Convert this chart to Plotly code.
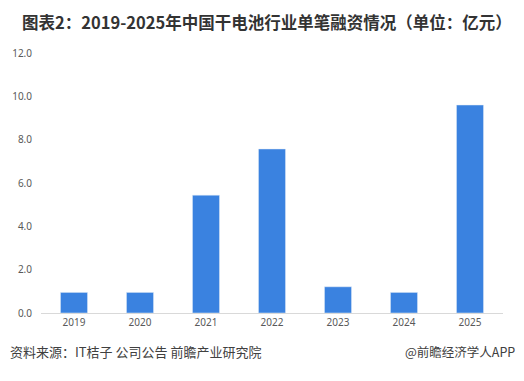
import plotly.graph_objects as go

years = ["2019", "2020", "2021", "2022", "2023", "2024", "2025"]
values = [0.95, 0.95, 5.44, 7.57, 1.21, 0.95, 9.6]
y_ticks = [0, 2, 4, 6, 8, 10, 12]
y_tick_labels = ["0.0", "2.0", "4.0", "6.0", "8.0", "10.0", "12.0"]

title_text = "图表2：2019-2025年中国干电池行业单笔融资情况（单位：亿元）"
source_text = "资料来源：IT桔子 公司公告 前瞻产业研究院"
credit_text = "@前瞻经济学人APP"

# page body has an 8px default margin; figure size compensates
OFF = 8
W, H = 524 - OFF, 381 - OFF
L, R, T, B = 41 - OFF, 21, 53 - OFF, 67.5
pw, ph = W - L - R, H - T - B


def px(x):
    return (x - OFF - L) / pw


def py(y):
    return (H - B - (y - OFF)) / ph


fig = go.Figure(go.Bar(x=years, y=values, marker_color="#3A82E0", width=0.41))

fig.update_layout(
    width=W, height=H,
    margin=dict(l=L, r=R, t=T, b=B, autoexpand=False),
    paper_bgcolor="white", plot_bgcolor="white",
    showlegend=False,
    font=dict(family="Noto Sans, Liberation Sans, sans-serif", size=10, color="#595959"),
)
fig.add_annotation(text="<b>" + title_text + "</b>", x=px(20), y=py(22), xref="paper", yref="paper",
                   showarrow=False, xanchor="left", yanchor="middle",
                   font=dict(family="Noto Sans CJK SC", size=16.5, color="#333333"))
fig.add_annotation(text=source_text, x=px(8), y=py(352), xref="paper", yref="paper",
                   showarrow=False, xanchor="left", yanchor="middle",
                   font=dict(family="Noto Sans CJK SC", size=13, color="#404040"))
fig.add_annotation(text=credit_text, x=px(517), y=py(352), xref="paper", yref="paper",
                   showarrow=False, xanchor="right", yanchor="middle",
                   font=dict(family="Noto Sans CJK SC", size=12.5, color="#404040"))

fig.update_xaxes(showline=True, linecolor="#D9D9D9", linewidth=1, ticks="", showgrid=False,
                 tickfont=dict(size=10, color="#595959"))
fig.update_yaxes(range=[0, 12], tickvals=y_ticks, ticktext=y_tick_labels, showgrid=False,
                 zeroline=False, showline=False, ticks="", ticklabelstandoff=8,
                 tickfont=dict(size=10, color="#595959"))

fig.write_html("out.html")
